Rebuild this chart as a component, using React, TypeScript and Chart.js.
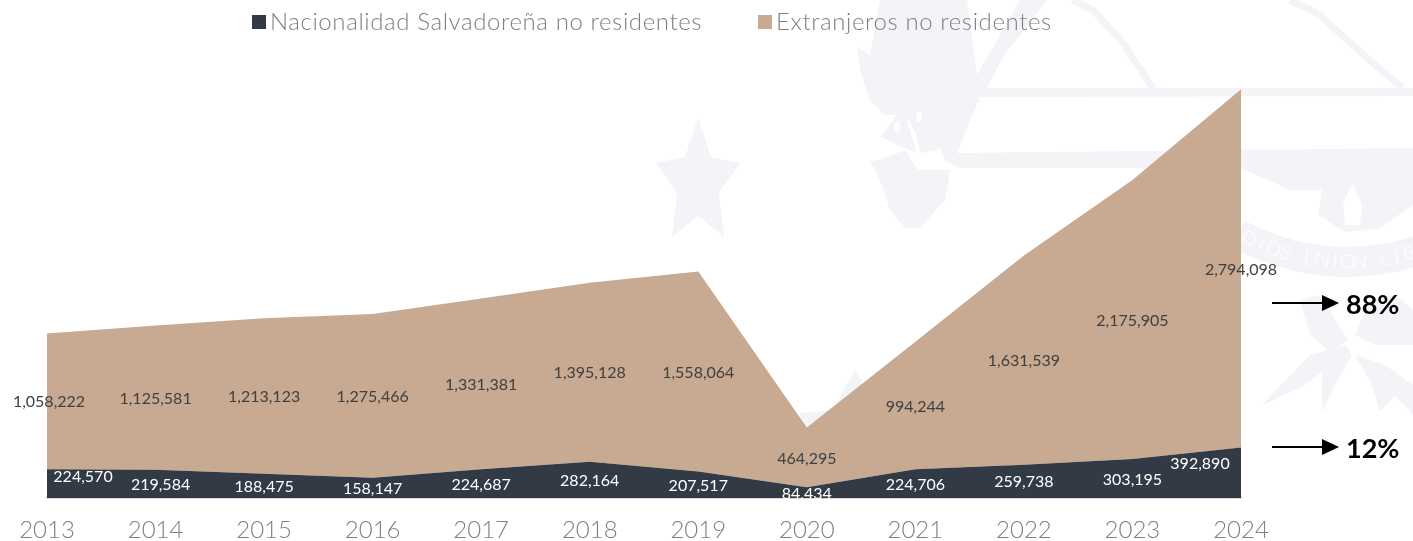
import React, { useEffect, useRef } from "react";
import { Chart, registerables } from "chart.js";

Chart.register(...registerables);

const years = ["2013", "2014", "2015", "2016", "2017", "2018", "2019", "2020", "2021", "2022", "2023", "2024"];
const salvadorans = [224570, 219584, 188475, 158147, 224687, 282164, 207517, 84434, 224706, 259738, 303195, 392890];
const foreigners = [1058222, 1125581, 1213123, 1275466, 1331381, 1395128, 1558064, 464295, 994244, 1631539, 2175905, 2794098];
const seriesNames = ["Nacionalidad Salvadoreña no residentes", "Extranjeros no residentes"];
const shares = ["12%", "88%"];

const DARK = "#323a46";
const TAN = "#c8a991";
const MARK = "#f3f4f8";
const LABEL_FONT = '16px Lato, sans-serif';

const poly = (ctx: CanvasRenderingContext2D, pts: number[][]) => {
  ctx.beginPath();
  pts.forEach(([x, y], i) => (i ? ctx.lineTo(x, y) : ctx.moveTo(x, y)));
  ctx.closePath();
  ctx.fill();
};

const watermark = {
  id: "watermark",
  beforeDatasetsDraw(chart: any) {
    const ctx: CanvasRenderingContext2D = chart.ctx;
    ctx.save();
    ctx.fillStyle = MARK;
    ctx.strokeStyle = MARK;
    poly(ctx, [[698, 117], [711, 157], [740, 163], [719, 193], [724, 237], [698, 216], [672, 237], [677, 193], [656, 163], [685, 157]]);
    poly(ctx, [[920, 0], [967, 0], [977, 75], [1020, 0], [1047, 0], [1003, 57], [987, 88], [1413, 88], [1413, 96], [980, 97], [957, 153], [1413, 148], [1413, 168], [1241, 168], [960, 168], [945, 160], [935, 135], [925, 60]]);
    poly(ctx, [[857, 47], [870, 55], [880, 0], [925, 0], [930, 80], [945, 150], [920, 140], [905, 115], [885, 115], [870, 100], [860, 70]]);
    poly(ctx, [[880, 137], [897, 115], [905, 115], [917, 153], [900, 146]]);
    poly(ctx, [[912, 115], [930, 108], [938, 150], [920, 153]]);
    poly(ctx, [[870, 161], [880, 160], [905, 150], [918, 170], [950, 170], [945, 200], [920, 228], [905, 228], [890, 210], [880, 180]]);
    poly(ctx, [[855, 369], [872, 400], [830, 440], [800, 425], [800, 413], [833, 410]]);
    poly(ctx, [[1241, 168], [1290, 190], [1322, 190], [1318, 215], [1345, 232], [1380, 228], [1413, 205], [1413, 168]]);
    poly(ctx, [[1300, 300], [1320, 295], [1348, 340], [1330, 352], [1310, 335]]);
    poly(ctx, [[1355, 335], [1370, 300], [1395, 295], [1413, 310], [1413, 345], [1375, 345]]);
    poly(ctx, [[1345, 345], [1310, 355], [1262, 405], [1305, 385], [1322, 372], [1322, 412], [1335, 385], [1352, 355]]);
    poly(ctx, [[1355, 355], [1385, 365], [1413, 385], [1413, 415], [1395, 395], [1380, 412], [1372, 385]]);
    ctx.fillStyle = "#ffffff";
    poly(ctx, [[1352, 183], [1362, 205], [1360, 225], [1345, 225], [1343, 205]]);
    ctx.beginPath();
    ctx.ellipse(897, 127, 3, 5, 0, 0, Math.PI * 2);
    ctx.ellipse(919, 117, 3, 5, 0, 0, Math.PI * 2);
    ctx.fill();
    ctx.lineWidth = 7;
    ctx.lineJoin = "round";
    [[[1073, 0], [1093, 10], [1123, 43], [1153, 88]], [[1290, 0], [1317, 13], [1373, 63], [1403, 88]]].forEach((line) => {
      ctx.beginPath();
      line.forEach(([x, y], i) => (i ? ctx.lineTo(x, y) : ctx.moveTo(x, y)));
      ctx.stroke();
    });
    ctx.lineWidth = 30;
    ctx.beginPath();
    ctx.moveTo(1238, 234);
    ctx.quadraticCurveTo(1325, 280, 1420, 250);
    ctx.stroke();
    ctx.fillStyle = "#ffffff";
    ctx.font = "300 19px Lato, sans-serif";
    ctx.textAlign = "center";
    ctx.textBaseline = "middle";
    const motto = "DIOS UNION LIB";
    for (let i = 0; i < motto.length; i++) {
      const t = i / (motto.length - 1);
      const x = 1249 + t * 160;
      const u = (x - 1238) / 182;
      const y = (1 - u) * (1 - u) * 234 + 2 * u * (1 - u) * 280 + u * u * 250;
      ctx.save();
      ctx.translate(x, y);
      ctx.rotate(Math.atan2(2 * (1 - u) * 46 + 2 * u * -30, 182));
      ctx.fillText(motto[i], 0, 0);
      ctx.restore();
    }
    ctx.restore();
  },
};

const annotations = {
  id: "annotations",
  afterDatasetsDraw(chart: any) {
    const ctx: CanvasRenderingContext2D = chart.ctx;
    const xs = chart.scales.x;
    const ys = chart.scales.y;
    ctx.save();

    // value labels: each one sits in the middle of its band
    ctx.font = LABEL_FONT;
    (ctx as any).fontKerning = "normal";
    ctx.textAlign = "center";
    ctx.textBaseline = "middle";
    years.forEach((_, i) => {
      const dx = i === 0 ? 36 : i === years.length - 1 ? -41 : i === 1 ? 5 : 0;
      const dy = i === 0 ? -7 : i === years.length - 1 ? -9 : 1;
      ctx.fillStyle = "#ffffff";
      ctx.fillText(salvadorans[i].toLocaleString("en-US"), xs.getPixelForValue(i) + dx, ys.getPixelForValue(salvadorans[i] / 2) + dy);
      ctx.fillStyle = "#404040";
      const mid = salvadorans[i] + foreigners[i] / 2;
      const ux = i === 0 ? 2 : 0;
      ctx.fillText(foreigners[i].toLocaleString("en-US"), xs.getPixelForValue(i) + ux, ys.getPixelForValue(mid) + 1);
    });

    // legend
    const legendX = [252, 758];
    seriesNames.forEach((name, i) => {
      ctx.fillStyle = i === 0 ? DARK : TAN;
      ctx.fillRect(legendX[i], 15, 14, 14);
      ctx.fillStyle = "#7f7f7f";
      ctx.font = "300 24px Lato, sans-serif";
      ctx.textAlign = "left";
      ctx.textBaseline = "alphabetic";
      (ctx as any).letterSpacing = "0.6px";
      ctx.fillText(name, legendX[i] + 18, 30);
      (ctx as any).letterSpacing = "0px";
    });

    // share arrows
    const shareY = [447, 303];
    shares.forEach((share, i) => {
      const y = shareY[i];
      ctx.strokeStyle = "#000000";
      ctx.lineWidth = 2;
      ctx.beginPath();
      ctx.moveTo(1272, y);
      ctx.lineTo(1325, y);
      ctx.stroke();
      ctx.fillStyle = "#000000";
      poly(ctx, [[1322, y - 8], [1339, y], [1322, y + 8]]);
      ctx.font = "700 27px Lato, sans-serif";
      ctx.textAlign = "left";
      ctx.textBaseline = "alphabetic";
      ctx.fillText(share, 1346, y + 11);
    });
    ctx.restore();
  },
};

export default function App() {
  const ref = useRef<HTMLCanvasElement>(null);
  useEffect(() => {
    document.body.style.margin = "0";
    const chart = new Chart(ref.current!, {
      type: "line",
      data: {
        labels: years,
        datasets: [
          { label: seriesNames[0], data: salvadorans, backgroundColor: DARK, borderWidth: 0, pointRadius: 0, fill: "origin", tension: 0 },
          { label: seriesNames[1], data: foreigners, backgroundColor: TAN, borderWidth: 0, pointRadius: 0, fill: "-1", tension: 0 },
        ],
      },
      options: {
        animation: false,
        responsive: false,
        layout: { padding: { left: 47, right: 172, top: 49, bottom: 0 } },
        plugins: { legend: { display: false }, tooltip: { enabled: false } },
        scales: {
          x: {
            offset: false,
            grid: { display: false },
            border: { color: "#d9d9d9", width: 2 },
            afterFit: (s: any) => { s.height = 43; },
            ticks: {
              autoSkip: false,
              maxRotation: 0,
              padding: 10,
              color: "#7f7f7f",
              font: { family: "Lato, sans-serif", size: 24, weight: "300" },
            },
          },
          y: { display: false, stacked: true, min: 0, max: 3500000 },
        },
      },
      plugins: [watermark, annotations],
    } as any);
    return () => chart.destroy();
  }, []);
  return <canvas ref={ref} width={1413} height={541} style={{ display: "block" }} />;
}
